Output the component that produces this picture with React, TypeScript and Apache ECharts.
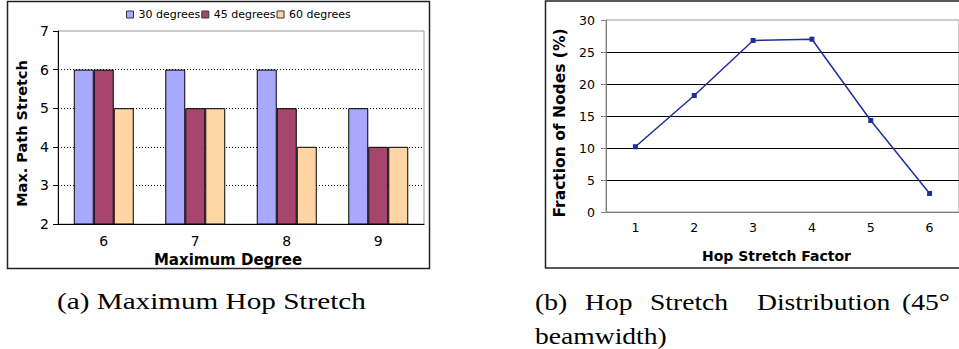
import React, { useEffect, useRef } from "react";
import * as echarts from "echarts";

// Panel (a): maximum path stretch per maximum node degree
const degreeCategories = ["6", "7", "8", "9"];
const beamNames = ["30 degrees", "45 degrees", "60 degrees"];
const stretch30 = [6, 6, 6, 5];
const stretch45 = [6, 5, 5, 4];
const stretch60 = [5, 5, 4, 4];

// Panel (b): distribution of hop stretch at 45° beamwidth
const hopFactors = ["1", "2", "3", "4", "5", "6"];
const nodeFraction = [10.2, 18.2, 26.8, 27.0, 14.3, 2.9];

const captionA = "(a) Maximum Hop Stretch";
const captionBLine1 = ["(b)", "Hop", "Stretch", "Distribution", "(45°"];
const captionBLine2 = "beamwidth)";

const barColors = ["#a8a8ff", "#a6466f", "#ffd5a4"];
const lineColor = "#1d2f9e";
const sans = "DejaVu Sans, Verdana, sans-serif";
const serif = "Liberation Serif, Times New Roman, serif";

export default function App() {
  const ref = useRef<HTMLDivElement>(null);

  useEffect(() => {
    if (!ref.current) return;
    const chart = echarts.init(ref.current, undefined, { renderer: "svg" });

    const barSeries = [stretch30, stretch45, stretch60].map((values, i) => ({
      type: "bar",
      name: beamNames[i],
      xAxisIndex: 0,
      yAxisIndex: 0,
      data: values,
      barWidth: 20,
      barGap: "0%",
      itemStyle: { color: barColors[i], borderColor: "#000", borderWidth: 1 },
    }));

    const captionText = (text: string, x: number, y: number, scaleX: number) => ({
      type: "text",
      x,
      y,
      scaleX,
      style: {
        text,
        font: `23px ${serif}`,
        fill: "#000",
        textAlign: "left",
        textVerticalAlign: "middle",
      },
    });

    const wordX = [535, 585, 650, 757, 902];
    const captionWords = captionBLine1.map((w, i) => captionText(w, wordX[i], 302, 1.2));

    chart.setOption({
      animation: false,
      backgroundColor: "#fff",
      textStyle: { fontFamily: sans, color: "#000" },
      legend: {
        left: 126,
        top: 9,
        padding: 0,
        itemWidth: 7,
        itemHeight: 7,
        itemGap: 1,
        icon: "rect",
        data: beamNames,
        textStyle: { fontSize: 11, color: "#000", fontFamily: sans },
        itemStyle: { borderColor: "#333", borderWidth: 1 },
      },
      grid: [
        {
          left: 58,
          top: 31,
          width: 366,
          height: 193,
          show: true,
          borderColor: "#999",
          borderWidth: 1,
          backgroundColor: "transparent",
        },
        {
          left: 606,
          top: 20,
          width: 356,
          height: 192,
          show: true,
          borderColor: "#999",
          borderWidth: 1,
          backgroundColor: "transparent",
        },
      ],
      xAxis: [
        {
          type: "category",
          gridIndex: 0,
          data: degreeCategories,
          axisLine: { lineStyle: { color: "#000", width: 1 } },
          axisTick: { length: 5, lineStyle: { color: "#000" } },
          axisLabel: { fontSize: 14, margin: 10, color: "#000" },
          name: "Maximum Degree",
          nameLocation: "middle",
          nameGap: 26,
          nameTextStyle: { fontSize: 15, fontWeight: "bold", color: "#000", padding: [0, 26, 0, 0] },
        },
        {
          type: "category",
          gridIndex: 1,
          data: hopFactors,
          axisLine: { lineStyle: { color: "#808080", width: 1 } },
          axisTick: { length: 5, lineStyle: { color: "#000" } },
          axisLabel: { fontSize: 12.5, margin: 9, color: "#000" },
          name: "Hop Stretch Factor",
          nameLocation: "middle",
          nameGap: 37,
          nameTextStyle: { fontSize: 14, fontWeight: "bold", color: "#000", padding: [0, 12, 0, 0] },
        },
      ],
      yAxis: [
        {
          type: "value",
          gridIndex: 0,
          min: 2,
          max: 7,
          interval: 1,
          axisLine: { show: true, lineStyle: { color: "#000", width: 1 } },
          axisTick: { show: true, length: 5, lineStyle: { color: "#000" } },
          axisLabel: { fontSize: 14, margin: 9, color: "#000" },
          splitLine: {
            show: true,
            showMinLine: false,
            showMaxLine: false,
            lineStyle: { color: "#000", type: [1, 2], width: 1 },
          },
          name: "Max. Path Stretch",
          nameLocation: "middle",
          nameRotate: 90,
          nameGap: 29,
          nameTextStyle: { fontSize: 14.5, fontWeight: "bold", color: "#000", padding: [0, 12, 0, 0] },
        },
        {
          type: "value",
          gridIndex: 1,
          min: 0,
          max: 30,
          interval: 5,
          axisLine: { show: true, lineStyle: { color: "#808080", width: 1 } },
          axisTick: { show: true, length: 5, lineStyle: { color: "#808080" } },
          axisLabel: { fontSize: 12.5, margin: 11, color: "#000" },
          splitLine: {
            show: true,
            showMinLine: false,
            showMaxLine: false,
            lineStyle: { color: "#000", width: 1 },
          },
          name: "Fraction of Nodes (%)",
          nameLocation: "middle",
          nameRotate: 90,
          nameGap: 38,
          nameTextStyle: { fontSize: 15.5, fontWeight: "bold", color: "#000", padding: [0, 14, 0, 0] },
        },
      ],
      series: [
        ...barSeries,
        {
          type: "line",
          name: "Hop stretch",
          xAxisIndex: 1,
          yAxisIndex: 1,
          data: nodeFraction,
          symbol: "rect",
          symbolSize: 5,
          showSymbol: true,
          lineStyle: { color: lineColor, width: 1.5 },
          itemStyle: { color: lineColor },
        },
      ],
      graphic: [
        {
          type: "rect",
          shape: { x: 7.5, y: 1.5, width: 422, height: 267 },
          style: { fill: "none", stroke: "#222", lineWidth: 1.5 },
          silent: true,
        },
        {
          type: "rect",
          shape: { x: 545.5, y: 1, width: 430, height: 267 },
          style: { fill: "none", stroke: "#222", lineWidth: 1.5 },
          silent: true,
        },
        captionText(captionA, 57, 302, 1.27),
        ...captionWords,
        captionText(captionBLine2, 535, 336, 1.2),
      ],
    });

    return () => chart.dispose();
  }, []);

  return (
    <div
      ref={ref}
      style={{ position: "absolute", left: 0, top: 0, width: 959, height: 349, overflow: "hidden" }}
    />
  );
}
